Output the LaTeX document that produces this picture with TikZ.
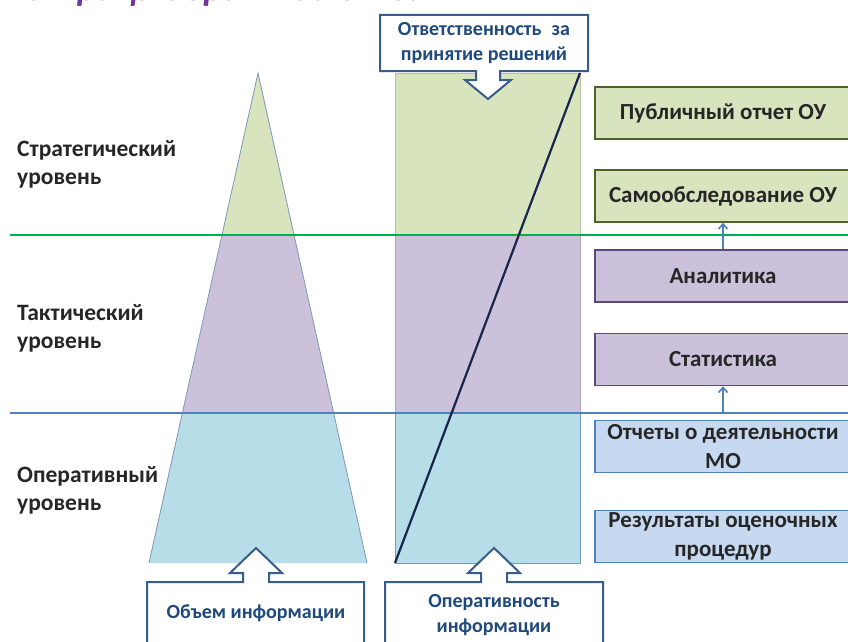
\documentclass[tikz,border=0pt]{standalone}
\usepackage{fontspec}
\setmainfont{Carlito}
\usetikzlibrary{arrows.meta}
\definecolor{gfill}{HTML}{D7E4BD}
\definecolor{pfill}{HTML}{CCC1DA}
\definecolor{bfill}{HTML}{B7DDE8}
\definecolor{rbfill}{HTML}{C6D9F1}
\definecolor{gdraw}{HTML}{4F6228}
\definecolor{pdraw}{HTML}{5F497A}
\definecolor{bdraw}{HTML}{4F81BD}
\definecolor{glinec}{HTML}{00B050}
\definecolor{blinec}{HTML}{4F81BD}
\definecolor{callc}{HTML}{385D8A}
\definecolor{calltext}{HTML}{1F497D}
\definecolor{diagc}{HTML}{17254A}
\definecolor{titlec}{HTML}{7030A0}
\definecolor{trid}{HTML}{7E96B8}
\begin{document}
\begin{tikzpicture}[x=1pt,y=-1pt,
  lvl/.style={anchor=north west,inner sep=0pt,align=left,font=\fontsize{23.5}{28}\selectfont\bfseries,text=black!85},
  rbox/.style={minimum width=256pt,minimum height=52pt,inner sep=0pt,align=center,line width=1.6pt,font=\fontsize{23}{28.5}\selectfont\bfseries,text=black!85},
  callout/.style={fill=white,draw=callc,line width=2pt,line join=miter},
  ctext/.style={align=center,inner sep=0pt,text=calltext,font=\fontsize{20}{24.5}\selectfont\bfseries},
  uparrow/.style={draw=bdraw,line width=1.6pt,-{Straight Barb[length=5pt,width=9pt]}}]
\useasboundingbox (0,0) rectangle (848,642);
% clipped title
\node[anchor=base east,inner sep=0pt,text=titlec,font=\fontsize{37}{37}\selectfont\bfseries\itshape] (title) at (427,1) {Матрица обратной связи};
% triangle
\fill[gfill] (258,73) -- (294,235) -- (222,235) -- cycle;
\fill[pfill] (222,235) -- (294,235) -- (333.6,413) -- (182.4,413) -- cycle;
\fill[bfill] (182.4,413) -- (333.6,413) -- (367,563) -- (149,563) -- cycle;
\draw[trid,line width=0.8pt] (149,563) -- (258,73) -- (367,563);
% column
\filldraw[fill=gfill,draw=gfill!85!black] (395,73) rectangle (580,235);
\filldraw[fill=pfill,draw=pfill!85!black] (395,235) rectangle (580,413);
\filldraw[fill=bfill,draw=bdraw!80] (395,413) rectangle (580,563);
% level lines
\draw[glinec,line width=1.6pt] (10,235) -- (848,235);
\draw[blinec,line width=1.6pt] (10,413) -- (848,413);
% diagonal
\coordinate (dlow) at (395,563);
\coordinate (dhigh) at (580,73);
\draw[diagc,line width=2.2pt] (dlow) -- (dhigh);
% level labels
\node[lvl] (strat) at (17,140) {Стратегический\\уровень};
\node[lvl] (takt) at (17,304) {Тактический\\уровень};
\node[lvl] (oper) at (17,466) {Оперативный\\уровень};
% top callout
\draw[callout] (380,15) -- (588,15) -- (588,71) -- (500,71) -- (500,80) -- (511,80) -- (488,99) -- (465,80) -- (476,80) -- (476,71) -- (380,71) -- cycle;
\node[ctext] (resp) at (484,43) {Ответственность\enspace за\\принятие решений};
% bottom callouts
\draw[callout] (147,660) -- (147,582) -- (243,582) -- (243,573) -- (230,573) -- (256,548) -- (282,573) -- (269,573) -- (269,582) -- (364,582) -- (364,660);
\node[ctext] (vol) at (256,613) {Объем информации};
\draw[callout] (385,660) -- (385,582) -- (481,582) -- (481,573) -- (468,573) -- (494,548) -- (520,573) -- (507,573) -- (507,582) -- (603,582) -- (603,660);
\node[ctext] (oprt) at (494,615) {Оперативность\\информации};
% right boxes
\node[rbox,fill=gfill,draw=gdraw] (pub) at (723,113) {Публичный отчет ОУ};
\node[rbox,fill=gfill,draw=gdraw] (sam) at (723,196) {Самообследование ОУ};
\node[rbox,fill=pfill,draw=pdraw] (anl) at (723,276) {Аналитика};
\node[rbox,fill=pfill,draw=pdraw] (stat) at (723,359.5) {Статистика};
\node[rbox,fill=rbfill,draw=bdraw] (otch) at (723,446.5) {Отчеты о деятельности\\МО};
\node[rbox,fill=rbfill,draw=bdraw] (rez) at (723,536.5) {Результаты оценочных\\процедур};
% arrows
\draw[uparrow] (anl.north) -- (sam.south);
\draw[uparrow] (otch.north) ++(0,-7) -- (stat.south);
\end{tikzpicture}
\end{document}
